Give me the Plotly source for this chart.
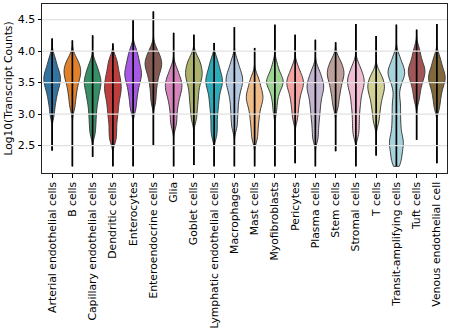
import plotly.graph_objects as go
import colorsys

categories = ["Arterial endothelial cells", "B cells", "Capillary endothelial cells",
              "Dendritic cells", "Enterocytes", "Enteroendocrine cells", "Glia",
              "Goblet cells", "Lymphatic endothelial cells", "Macrophages", "Mast cells",
              "Myofibroblasts", "Pericytes", "Plasma cells", "Stem cells", "Stromal cells",
              "T cells", "Transit-amplifying cells", "Tuft cells", "Venous endothelial cell"]

palette = ['#1f77b4', '#ff7f0e', '#279e68', '#d62728', '#aa40fc', '#8c564b', '#e377c2',
           '#b5bd61', '#17becf', '#aec7e8', '#ffbb78', '#98df8a', '#ff9896', '#c5b0d5',
           '#c49c94', '#f7b6d2', '#dbdb8d', '#9edae5', '#ad494a', '#8c6d31']

# observed range of each group (ends of the strip of points)
data_min = [2.42, 2.17, 2.32, 2.17, 2.17, 2.50, 2.17, 2.19, 2.17, 2.17,
            2.17, 2.17, 2.22, 2.17, 2.41, 2.17, 2.34, 2.17, 2.59, 2.22]
data_max = [4.20, 4.17, 4.25, 4.12, 4.50, 4.63, 4.29, 4.26, 4.13, 4.38,
            4.05, 4.42, 4.26, 4.18, 4.14, 4.43, 4.24, 4.42, 4.34, 4.43]

# representative values
arterial = [3.0, 3.15, 3.25, 3.33, 3.4, 3.45, 3.5, 3.54, 3.58, 3.62, 3.67, 3.72, 3.8, 3.9]
b_cells = [3.1, 3.22, 3.32, 3.4, 3.47, 3.53, 3.58, 3.62, 3.66, 3.7, 3.74, 3.78, 3.83, 3.9]
capillary = [2.7, 2.85, 2.98, 3.1, 3.2, 3.28, 3.35, 3.42, 3.47, 3.52, 3.57, 3.63, 3.7, 3.8]
dendritic = [2.6, 2.75, 2.9, 3.02, 3.12, 3.22, 3.3, 3.37, 3.43, 3.5, 3.57, 3.65, 3.75, 3.87]
enterocytes = [3.08, 3.22, 3.33, 3.42, 3.5, 3.56, 3.61, 3.66, 3.71, 3.77, 3.84, 3.92, 4.02]
enteroendocrine = [3.2, 3.35, 3.48, 3.57, 3.65, 3.71, 3.76, 3.8, 3.84, 3.89, 3.95, 4.03]
glia = [2.83, 2.97, 3.1, 3.2, 3.28, 3.35, 3.4, 3.45, 3.5, 3.55, 3.62, 3.72]
goblet = [2.93, 3.08, 3.2, 3.3, 3.4, 3.48, 3.55, 3.6, 3.65, 3.7, 3.76, 3.82, 3.9]
lymphatic = [2.67, 2.82, 2.97, 3.1, 3.2, 3.3, 3.38, 3.45, 3.5, 3.55, 3.6, 3.67, 3.75, 3.86]
macrophages = [2.8, 2.95, 3.08, 3.2, 3.3, 3.38, 3.45, 3.5, 3.55, 3.6, 3.66, 3.73, 3.85]
mast = [2.62, 2.77, 2.9, 3.0, 3.1, 3.17, 3.23, 3.28, 3.33, 3.4, 3.48, 3.58]
myofibroblasts = [3.05, 3.2, 3.3, 3.38, 3.43, 3.47, 3.5, 3.52, 3.55, 3.58, 3.63, 3.7, 3.8]
pericytes = [2.93, 3.07, 3.18, 3.27, 3.35, 3.41, 3.46, 3.5, 3.54, 3.59, 3.65, 3.75]
plasma = [2.62, 2.78, 2.92, 3.03, 3.13, 3.22, 3.3, 3.37, 3.42, 3.47, 3.53, 3.6, 3.7]
stem = [3.12, 3.25, 3.35, 3.43, 3.5, 3.56, 3.61, 3.65, 3.69, 3.74, 3.8, 3.87]
stromal = [2.68, 2.83, 2.97, 3.1, 3.2, 3.3, 3.38, 3.44, 3.5, 3.55, 3.6, 3.67, 3.77]
t_cells = [2.88, 3.02, 3.13, 3.22, 3.3, 3.36, 3.41, 3.46, 3.51, 3.57, 3.65]
transit = [2.2, 2.28, 2.36, 2.43, 2.5, 2.55, 2.6, 2.67, 2.76, 2.85,
           2.95, 3.05, 3.15, 3.25,
           3.4, 3.5, 3.57, 3.62, 3.66, 3.7, 3.75, 3.82, 3.92]
tuft = [3.23, 3.36, 3.46, 3.53, 3.59, 3.64, 3.68, 3.72, 3.77, 3.83, 3.92, 4.03]
venous = [3.1, 3.23, 3.33, 3.41, 3.48, 3.53, 3.57, 3.61, 3.66, 3.72, 3.8, 3.9]

groups = [arterial, b_cells, capillary, dendritic, enterocytes, enteroendocrine, glia,
          goblet, lymphatic, macrophages, mast, myofibroblasts, pericytes, plasma, stem,
          stromal, t_cells, transit, tuft, venous]

ytick_vals = [2.5, 3.0, 3.5, 4.0, 4.5]


def desaturate(hexcol, prop=0.75):
    r, g, b = (int(hexcol[i:i + 2], 16) / 255 for i in (1, 3, 5))
    h, l, s = colorsys.rgb_to_hls(r, g, b)
    r, g, b = colorsys.hls_to_rgb(h, l, s * prop)
    return '#%02x%02x%02x' % (round(r * 255), round(g * 255), round(b * 255))


fig = go.Figure()
for cat, vals, col, lo, hi in zip(categories, groups, palette, data_min, data_max):
    fig.add_trace(go.Violin(
        x=[cat] * len(vals), y=vals, name=cat,
        fillcolor=desaturate(col), opacity=1,
        line=dict(color='#3d3d3d', width=1),
        width=0.82, bandwidth=0.09,
        spanmode='manual', span=[lo, hi],
        points=False, box_visible=False, meanline_visible=False,
        hoverinfo='skip'))

line_x, line_y = [], []
for cat, lo, hi in zip(categories, data_min, data_max):
    line_x += [cat, cat, None]
    line_y += [lo, hi, None]
fig.add_trace(go.Scatter(x=line_x, y=line_y, mode='lines',
                         line=dict(color='black', width=1.7), hoverinfo='skip'))

# horizontal grid drawn over the violins, as in the reference
for v in ytick_vals:
    fig.add_hline(y=v, line=dict(color='#e1e1e1', width=1.3), layer='above')

fig.update_layout(
    width=449, height=330,
    margin=dict(l=42, r=2, t=4, b=157),
    plot_bgcolor='white', paper_bgcolor='white',
    showlegend=False, violinmode='overlay',
    font=dict(family='DejaVu Sans', size=10.7, color='black'),
)
fig.update_xaxes(
    type='category', categoryorder='array', categoryarray=categories,
    range=[-0.5, len(categories) - 0.5],
    tickangle=-90, ticks='outside', ticklen=3.5, tickcolor='black',
    showline=True, mirror=True, linecolor='#222', linewidth=1,
    showgrid=False, tickfont=dict(size=10.8))
fig.update_yaxes(
    range=[2.064, 4.748], tickvals=ytick_vals, tickformat='.1f',
    ticks='outside', ticklen=3.5, tickcolor='black',
    showline=True, mirror=True, linecolor='#222', linewidth=1,
    showgrid=False, zeroline=False,
    title=dict(text='Log10(Transcript Counts)', font=dict(size=10.7), standoff=3),
    tickfont=dict(size=11))

fig.write_html("out.html")
